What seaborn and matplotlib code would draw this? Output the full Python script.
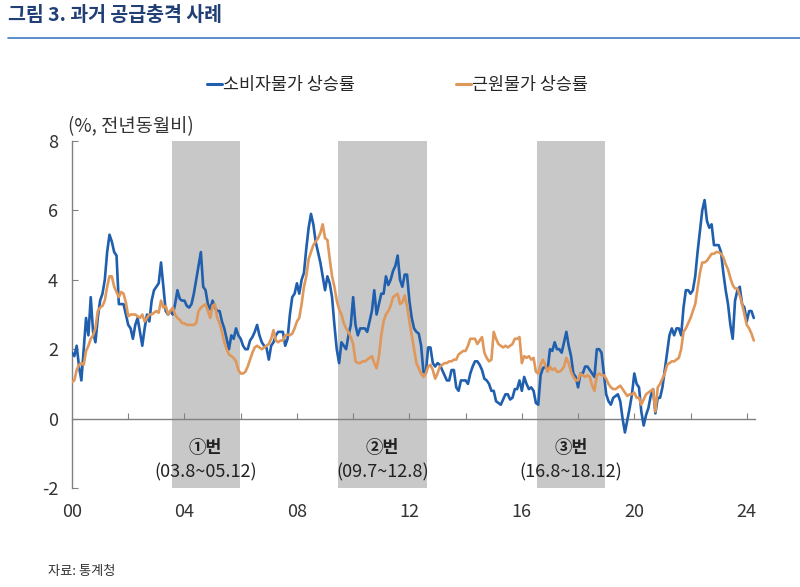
import numpy as np
import pandas as pd
import seaborn as sns
import matplotlib.pyplot as plt
from matplotlib.lines import Line2D

# 월별 전년동월비 (%), 2000.1 ~ 2024.4
cpi = [
    1.9, 1.8, 2.1, 1.5, 1.1, 2.0, 2.9, 2.4, 3.5, 2.5, 2.2, 2.9,  # 2000
    3.4, 3.6, 4.0, 4.8, 5.3, 5.1, 4.8, 4.7, 3.3, 3.3, 3.3, 3.0,  # 2001
    2.7, 2.6, 2.3, 2.7, 2.9, 2.5, 2.1, 2.6, 3.0, 2.8, 3.4, 3.7,  # 2002
    3.8, 3.9, 4.5, 3.8, 3.1, 3.0, 3.1, 3.0, 3.3, 3.7, 3.45, 3.4,  # 2003
    3.4, 3.25, 3.2, 3.3, 3.6, 4.0, 4.4, 4.8, 3.8, 3.7, 3.3, 3.15,  # 2004
    3.4, 3.2, 3.1, 3.1, 2.8, 2.6, 2.3, 2.0, 2.4, 2.3, 2.6, 2.4,  # 2005
    2.3, 2.1, 2.0, 2.0, 2.25, 2.35, 2.5, 2.7, 2.4, 2.2, 2.1, 2.05,  # 2006
    1.7, 2.1, 2.2, 2.4, 2.5, 2.5, 2.5, 2.1, 2.3, 3.0, 3.5, 3.6,  # 2007
    3.9, 3.6, 4.0, 4.2, 4.9, 5.5, 5.9, 5.6, 5.1, 4.8, 4.5, 4.1,  # 2008
    3.7, 4.1, 3.9, 3.5, 2.7, 2.0, 1.6, 2.2, 2.1, 2.0, 2.4, 2.7,  # 2009
    3.5, 2.7, 2.4, 2.6, 2.6, 2.6, 2.5, 2.8, 3.1, 3.7, 3.0, 3.3,  # 2010
    3.6, 3.6, 4.1, 3.85, 4.0, 4.25, 4.4, 4.7, 4.0, 3.8, 4.15, 4.15,  # 2011
    3.4, 2.9, 2.6, 2.5, 2.45, 2.1, 1.35, 1.3, 2.05, 2.05, 1.6, 1.5,  # 2012
    1.6, 1.55, 1.4, 1.25, 1.1, 1.1, 1.4, 1.4, 0.9, 0.8, 1.1, 1.1,  # 2013
    1.1, 1.0, 1.3, 1.5, 1.65, 1.65, 1.55, 1.4, 1.15, 1.1, 1.0, 0.8,  # 2014
    0.8, 0.5, 0.45, 0.4, 0.55, 0.7, 0.7, 0.55, 0.6, 0.85, 0.85, 1.1,  # 2015
    0.8, 1.2, 1.0, 0.85, 0.9, 0.8, 0.45, 0.4, 1.25, 1.45, 1.5, 1.4,  # 2016
    2.0, 1.95, 2.2, 2.0, 2.0, 1.9, 2.2, 2.5, 2.1, 1.8, 1.3, 1.2,  # 2017
    0.9, 1.3, 1.3, 1.5, 1.5, 1.4, 1.3, 1.2, 2.0, 2.0, 1.9, 1.3,  # 2018
    0.7, 0.5, 0.4, 0.6, 0.65, 0.7, 0.5, 0.0, -0.4, -0.05, 0.3, 0.7,  # 2019
    1.3, 1.0, 0.9, 0.2, -0.2, 0.1, 0.3, 0.65, 0.85, 0.15, 0.6, 0.6,  # 2020
    0.9, 1.4, 1.9, 2.4, 2.6, 2.4, 2.6, 2.6, 2.4, 3.2, 3.7, 3.7,  # 2021
    3.6, 3.7, 4.1, 4.8, 5.4, 6.0, 6.3, 5.7, 5.5, 5.6, 5.0, 5.0,  # 2022
    5.0, 4.8, 4.2, 3.7, 3.3, 2.7, 2.3, 3.4, 3.7, 3.8, 3.3, 3.2,  # 2023
    2.8, 3.1, 3.1, 2.9,  # 2024
]
core = [
    1.05, 1.1, 1.4, 1.55, 1.6, 1.55, 1.95, 2.1, 2.3, 2.4, 2.6, 3.1,  # 2000
    3.2, 3.25, 3.4, 3.8, 4.1, 4.1, 3.8, 3.65, 3.5, 3.65, 3.6, 3.35,  # 2001
    2.95, 3.0, 3.0, 3.0, 2.95, 2.9, 3.0, 2.8, 2.9, 3.0, 3.0, 3.05,  # 2002
    3.1, 3.05, 3.4, 3.2, 3.25, 3.0, 3.1, 3.2, 3.0, 2.9, 2.85, 2.75,  # 2003
    2.75, 2.7, 2.7, 2.7, 2.7, 2.75, 3.1, 3.2, 3.25, 3.3, 3.1, 2.9,  # 2004
    3.25, 3.3, 2.9, 2.75, 2.5, 2.2, 2.0, 1.85, 1.8, 1.75, 1.65, 1.4,  # 2005
    1.3, 1.3, 1.35, 1.5, 1.7, 1.9, 2.05, 2.1, 2.05, 2.0, 2.05, 2.1,  # 2006
    2.15, 2.3, 2.55, 2.25, 2.2, 2.25, 2.25, 2.4, 2.42, 2.4, 2.45, 2.6,  # 2007
    2.8, 2.9, 3.3, 3.8, 4.1, 4.6, 4.8, 5.0, 5.1, 5.2, 5.35, 5.6,  # 2008
    5.2, 5.15, 4.6, 4.1, 3.8, 3.4, 3.15, 3.0, 2.75, 2.6, 2.5, 2.35,  # 2009
    2.15, 1.65, 1.6, 1.6, 1.65, 1.65, 1.7, 1.75, 1.8, 1.6, 1.45, 1.8,  # 2010
    2.4, 2.8, 3.0, 3.1, 3.25, 3.5, 3.55, 3.6, 3.3, 3.35, 3.55, 3.25,  # 2011
    2.8, 2.4, 2.0, 1.6, 1.45, 1.3, 1.2, 1.3, 1.5, 1.55, 1.4, 1.15,  # 2012
    1.3, 1.5, 1.55, 1.6, 1.6, 1.65, 1.65, 1.7, 1.7, 1.85, 1.9, 1.95,  # 2013
    1.95, 2.1, 2.3, 2.3, 2.3, 2.15, 2.25, 2.35, 1.9, 1.75, 1.65, 1.7,  # 2014
    2.5, 2.3, 2.15, 2.1, 2.05, 2.1, 2.05, 2.1, 2.15, 2.3, 2.3, 2.35,  # 2015
    1.6, 1.8, 1.75, 1.8, 1.7, 1.75, 1.35, 1.3, 1.55, 1.7, 1.55, 1.35,  # 2016
    1.5, 1.4, 1.45, 1.35, 1.35, 1.4, 1.5, 1.75, 1.6, 1.35, 1.2, 1.1,  # 2017
    1.1, 1.3, 1.25, 1.2, 1.25, 1.2, 0.95, 0.8, 1.25, 1.3, 1.25, 1.25,  # 2018
    1.15, 1.0, 0.9, 0.85, 0.85, 0.9, 0.95, 0.85, 0.75, 0.65, 0.7, 0.7,  # 2019
    0.75, 0.6, 0.6, 0.4, 0.55, 0.7, 0.75, 0.8, 0.85, 0.2, 0.9, 1.0,  # 2020
    1.15, 1.3, 1.55, 1.6, 1.65, 1.65, 1.7, 1.75, 2.0, 2.5, 2.6, 2.75,  # 2021
    2.9, 3.1, 3.3, 3.75, 4.2, 4.5, 4.5, 4.55, 4.65, 4.75, 4.75, 4.8,  # 2022
    4.8, 4.75, 4.65, 4.45, 4.3, 4.05, 3.85, 3.75, 3.75, 3.55, 3.3, 3.0,  # 2023
    2.7, 2.6, 2.45, 2.25,  # 2024
]
series_names = ["소비자물가 상승률", "근원물가 상승률"]
series_colors = ["#1f5fae", "#e0975a"]

# 공급충격 기간
shock_start = [(2003, 8), (2009, 7), (2016, 8)]
shock_end = [(2005, 12), (2012, 8), (2018, 12)]
shock_names = ["①번", "②번", "③번"]
shock_periods = ["(03.8~05.12)", "(09.7~12.8)", "(16.8~18.12)"]

x_labels = ["00", "04", "08", "12", "16", "20", "24"]

sns.set_style("white")
plt.rcParams["font.family"] = ["Noto Sans CJK KR", "DejaVu Sans"]
narrow = ["Liberation Sans Narrow", "Noto Sans CJK KR", "DejaVu Sans"]

# 데이터프레임 구성
n = len(cpi)
t = 2000 + np.arange(n) / 12
df = pd.DataFrame({
    "t": np.concatenate([t, t]),
    "value": cpi + core,
    "series": [series_names[0]] * n + [series_names[1]] * n,
})

fig = plt.figure(figsize=(8, 5.87), dpi=100)
ax = fig.add_axes([0.09, 0.1687, 0.854, 0.591])

# 음영 구간
for (y0, m0), (y1, m1), name, period in zip(shock_start, shock_end, shock_names, shock_periods):
    x0 = y0 + (m0 - 1) / 12 - 1 / 24
    x1 = y1 + (m1 - 1) / 12 + 1 / 24
    ax.axvspan(x0, x1, color="#c8c8c8", lw=0, zorder=0)
    xc = (x0 + x1) / 2
    ax.text(xc, -0.84, name, ha="center", va="center", fontsize=12.5,
            fontweight="bold", color="#222222", family=narrow)
    ax.text(xc, -1.56, period, ha="center", va="center", fontsize=13,
            color="#222222", family=narrow)

sns.lineplot(data=df, x="t", y="value", hue="series", hue_order=series_names,
             palette=series_colors, lw=1.9, ax=ax, legend=False, zorder=3)

ax.set_xlim(2000, 2024.3)
ax.set_ylim(-2, 8)
ax.set_yticks([-2, 0, 2, 4, 6, 8])
ax.set_yticklabels(["-2", "0", "2", "4", "6", "8"], family=narrow)
ax.set_xticks(range(2000, 2025, 4))
ax.set_xticklabels(x_labels, family=narrow)
ax.set_xlabel("")
ax.set_ylabel("")

for s in ["top", "right", "bottom"]:
    ax.spines[s].set_visible(False)
ax.spines["left"].set_color("#808080")
ax.spines["left"].set_linewidth(1.0)
ax.tick_params(axis="y", direction="in", length=4, color="#808080",
               labelsize=13, labelcolor="#333333", pad=10, left=True)
ax.tick_params(axis="x", length=0, labelsize=13, labelcolor="#333333", pad=11, bottom=True)

# 0 기준선
zero_axis = ax.secondary_xaxis(0.2)
zero_axis.set_xticks(range(2002, 2025, 2))
zero_axis.tick_params(axis="x", direction="in", length=4, color="#808080",
                      labelbottom=False, labeltop=False)
for sp in zero_axis.spines.values():
    sp.set_color("#808080")
    sp.set_linewidth(1.0)

# 범례
handles = [Line2D([], [], color=c, lw=2.2) for c in series_colors]
fig.legend(handles, series_names, loc="center", bbox_to_anchor=(0.497, 0.855),
           ncol=2, frameon=False, fontsize=12.5, handlelength=0.85,
           handletextpad=0.1, columnspacing=5.8)

fig.text(0.085, 0.785, "(%, 전년동월비)", fontsize=13.5, color="#333333", va="center")

# 제목
fig.text(0.01, 0.974, "그림 3. 과거 공급충격 사례", fontsize=14, fontweight="bold",
         color="#1f3f75", va="center")
fig.add_artist(Line2D([0.01, 1.0], [0.935, 0.935], color="#3e7cc2", lw=1.2))

fig.text(0.06, 0.026, "자료: 통계청", fontsize=9.5, color="#333333", va="center")

plt.savefig("out.png", dpi=100)
plt.close()
